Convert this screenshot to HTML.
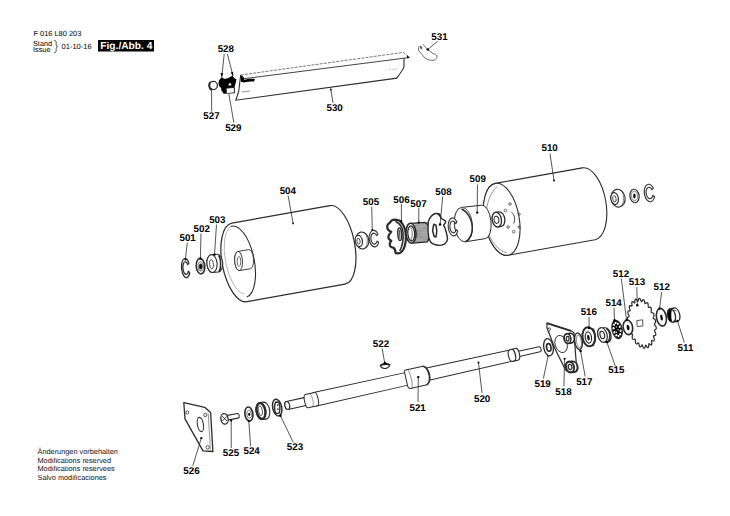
<!DOCTYPE html>
<html><head><meta charset="utf-8">
<style>
html,body{margin:0;padding:0;background:#fff;}
body{width:730px;height:516px;overflow:hidden;position:relative;}
svg{position:absolute;left:0;top:0;}
.l{font-family:"Liberation Sans",sans-serif;font-weight:bold;font-size:9.8px;fill:#000;}
text{text-rendering:geometricPrecision;}
.s{font-family:"Liberation Sans",sans-serif;font-size:7.3px;fill:#000;}
.f{font-family:"Liberation Sans",sans-serif;font-size:7.35px;fill:#111;}
.k{stroke:#000;fill:none;stroke-width:1;}
.t{stroke:#000;fill:none;stroke-width:0.8;}
[stroke="#000"],.k,.t{stroke:#2b2b2b;}
</style></head><body>
<svg width="730" height="516" viewBox="0 0 730 516">

<text class="s" x="33.4" y="36.2" style="font-size:7.45px">F 016 L80 203</text>
<text class="s" x="33" y="45.8" style="font-size:7.3px">Stand</text>
<text class="s" x="33" y="51.9" style="font-size:7.3px">Issue</text>
<path d="M54,40.3 C56,40.3 56.2,41.5 56.2,43 L56.2,45 C56.2,46 56.8,46.5 57.6,46.6 C56.8,46.7 56.2,47.2 56.2,48.2 L56.2,50 C56.2,51.5 56,52.7 54,52.7" fill="none" stroke="#000" stroke-width="0.75"/>
<text class="s" x="61.6" y="49" style="font-size:7.5px">01-10-16</text>
<rect x="98" y="40" width="56" height="11.5" fill="#000"/>
<text class="l" x="100.3" y="49.3" style="fill:#fff;font-size:10.2px">Fig./Abb. 4</text>
<text class="f" x="37.5" y="453.9">Änderungen vorbehalten</text>
<text class="f" x="37.5" y="462.6">Modifications reserved</text>
<text class="f" x="37.5" y="471.3">Modifications reservees</text>
<text class="f" x="37.5" y="480">Salvo modificaciones</text>


<g class="k">
<path d="M240.7,75 L403.3,52.4 L409.5,57.4" stroke-dasharray="3 1.2" stroke-width="0.8" style="stroke:#555"/>
<path d="M241.7,79 L404.1,58.2 L409.5,57.6" stroke-width="1" style="stroke:#444"/>
<path d="M404.1,58.2 L403.9,67 C403.5,69 402,71 396.7,78.2" stroke-width="1.1"/>
<path d="M407,55.2 L409.8,57.5 L406.8,58 Z" fill="#000" stroke="none"/>
<path d="M389,69.8 L397,69.2" stroke-width="0.4" stroke-dasharray="1 1.5"/>
<path d="M240.7,75 L239.8,82.3 L238.8,91 L235.9,100.2 L397,78.1" stroke-width="1.1"/>
<path d="M241.5,92 L250,91" stroke-width="0.5"/>
</g>
<path d="M242,80.5 C246,79 251,78.5 255,79 L254,81.5 C250,81.5 246,82 243,82.5 Z" fill="#000"/>
<path d="M240.5,75.5 C242.5,75.5 244,77 244,79 L244.5,81.5 L241,82 Z" fill="#000"/>
<path d="M218.5,83 C218.5,80.5 220,79 221.8,77 C223,78.5 224.5,79 226,78.8 C228,78 230.5,77.5 232.3,75.5 C233.5,77.5 235,78.5 236.5,79.5 C236,82 235,85 234.5,87.5 L227,88 C225.5,88.5 223,90 222.4,92 C221.5,91 221,89.5 221.2,88 C219.5,87 218.5,85 218.5,83 Z" fill="#000"/>
<path d="M228,85.4 L230,82.6 L231.7,85.2 Z" fill="#fff"/>
<path d="M222.4,88 L234.7,87.2 L234.8,93.2 L224,93.8 C222.5,93.5 222,89.5 222.4,88 Z" fill="#000"/>
<path d="M226.5,88.6 L233.8,88.1 L233.9,92.6 L226.8,93 Z" fill="#fff"/>
<circle cx="213.3" cy="85.5" r="4.1" fill="#fff" stroke="#000" stroke-width="1.3"/>
<path d="M210.6,82 C208.5,83.5 208.8,88 211.5,89.8" stroke="#000" stroke-width="2" fill="none"/>
<g class="t">
<path d="M224.2,54 L221.8,77"/><path d="M227.4,54 L233,76"/>
<path d="M211.6,111.5 L211.6,88"/>
<path d="M233.8,122.5 L228.9,94"/>
<path d="M330.8,89.2 L333,103"/>
<path d="M437.7,41.2 L427.8,49.5"/>
</g>
<circle cx="427.8" cy="49.5" r="1.3"/>
<circle cx="330.8" cy="89.4" r="0.9"/>
<path d="M221.8,77 l-1.4,-4 l2.8,0.3z M233,76 l-2.4,-3.4 l2.6,-0.7z" fill="#000"/>
<g class="t">
<path d="M419.2,46.1 C418,48 418.5,50 419,51 L425.3,58.4 C428,60 431,60.5 434,60.3 C436,59.5 437.5,57.5 437,56 C436.5,54.5 435,54 433,53.5 L427.2,49.2 L422.9,44.2" stroke-width="0.7"/>
<path d="M420.5,46 l1,3" stroke-width="1.4"/>
</g>

<path d="M231.88,223.11 L329.88,205.61 A17.2,40 -11 0 1 344.92,284.19 L246.92,301.69 A17.2,40 -11 0 1 231.88,223.11 Z" fill="#fff" stroke="#000" stroke-width="1.2"/>
<path d="M230.6,226.5 A15.5,36 -11 0 1 246.8,297" fill="none" stroke="#000" stroke-width="1.1"/>
<path d="M230.6,226.5 A14.5,35 -11 0 0 244,294" fill="none" stroke="#000" stroke-width="0.35"/>
<path d="M237.78,251.44 L248.78,249.64 A3.9,9.6 -4 0 1 250.42,268.76 L239.42,270.56 A3.9,9.6 -4 0 1 237.78,251.44 Z" fill="#fff" stroke="#000" stroke-width="0.9"/><ellipse cx="238.6" cy="261" rx="3.9" ry="9.6" transform="rotate(-4 238.6 261)" fill="#fff" stroke="#000" stroke-width="0.9"/>
<ellipse cx="239" cy="261.5" rx="1.8" ry="5" fill="none" stroke="#000" stroke-width="0.7" />
<path d="M288.1,195.5 L293.1,223.4" stroke="#000" stroke-width="0.8" fill="none"/><circle cx="293.1" cy="223.4" r="0.9"/>
<path d="M188.91,263 A4.2,9.6 -5 1 0 189.74,272.56 L188.37,271.05 A2.77,6.34 -5 1 1 187.82,264.73 Z" fill="#fff" stroke="#000" stroke-width="1.2" stroke-linejoin="round"/>
<path d="M187.3,242.5 L185.4,259.5" stroke="#000" stroke-width="0.8" fill="none"/><circle cx="185.4" cy="259.5" r="1.0"/>
<ellipse cx="200.5" cy="266.2" rx="4.3" ry="7.7" transform="rotate(-5 200.5 266.2)" fill="#fff" stroke="#000" stroke-width="1.5" />
<ellipse cx="200.7" cy="266.4" rx="2.6" ry="4.6" transform="rotate(-5 200.7 266.4)" fill="none" stroke="#000" stroke-width="0.7" />
<ellipse cx="200.8" cy="266.5" rx="1.3" ry="2.4" fill="#000" stroke="#000" stroke-width="1.1" />
<path d="M201,233.5 L200.4,258.5" stroke="#000" stroke-width="0.8" fill="none"/><circle cx="200.4" cy="258.5" r="1.2"/>
<path d="M211.22,254.73 L216.82,254.23 A5.1,8.9 -5 0 1 218.38,271.97 L212.78,272.47 A5.1,8.9 -5 0 1 211.22,254.73 Z" fill="#fff" stroke="#000" stroke-width="1.1"/><ellipse cx="212" cy="263.6" rx="5.1" ry="8.9" transform="rotate(-5 212 263.6)" fill="#fff" stroke="#000" stroke-width="1.1"/>
<path d="M218.5,255.5 C221,258 221.5,268 218.8,271.8" fill="none" stroke="#000" stroke-width="1.6"/>
<ellipse cx="211.5" cy="264.2" rx="1.9" ry="4.6" transform="rotate(-5 211.5 264.2)" fill="none" stroke="#000" stroke-width="0.8" />
<path d="M216.5,224.5 L214.5,254.6" stroke="#000" stroke-width="0.8" fill="none"/><circle cx="214.5" cy="254.6" r="1.2"/>
<ellipse cx="362.2" cy="240.5" rx="6.6" ry="8.5" transform="rotate(-10 362.2 240.5)" fill="#fff" stroke="#000" stroke-width="1.1" />
<path d="M364.5,232.5 C368,235 368.5,246 364.5,248.5" fill="none" stroke="#000" stroke-width="0.6"/>
<ellipse cx="358.8" cy="241" rx="3.6" ry="5.6" transform="rotate(-10 358.8 241)" fill="#fff" stroke="#000" stroke-width="1.2" />
<ellipse cx="358.5" cy="241.2" rx="1.6" ry="3" transform="rotate(-10 358.5 241.2)" fill="none" stroke="#000" stroke-width="0.8" />
<path d="M377.97,234.1 A4.9,8.3 -5 1 0 378.69,242.36 L377.13,241.08 A3.23,5.48 -5 1 1 376.65,235.63 Z" fill="#fff" stroke="#000" stroke-width="1.1" stroke-linejoin="round"/>
<path d="M371.7,206.7 L372.3,230" stroke="#000" stroke-width="0.8" fill="none"/><circle cx="372.3" cy="230" r="1.0"/>
<path d="M393.8,219.6 C396,219.6 398,220 399.7,220.8 C403.5,224 405.9,230 405.9,236.7 C405.9,243 404.5,247.5 403,250 C401.5,252.5 399,253.5 396.75,253.3 C395.8,253.2 395.3,252.8 395.5,252.5 C395.5,250.5 394.5,248.5 393,247.5 C391,247.5 389.5,246 389.7,244.2 C389.8,242.5 390.5,241.5 391.3,240.8 C389.5,240 388.2,238.5 388.4,236.7 C388.6,234.5 390,233 391.3,231.7 C389,231 387.2,229 387.2,226.7 C387.2,225 388.3,223.5 389.7,222.9 C390.8,221 392,219.8 393.8,219.6 Z" fill="#fff" stroke="#000" stroke-width="2.2" stroke-linejoin="round"/>
<path d="M395.5,221.25 C399.5,223.5 402.6,227 403,232 C403.5,238 402.5,246 399.7,250.8" fill="none" stroke="#000" stroke-width="1.5"/>
<ellipse cx="399.7" cy="234.2" rx="1.9" ry="6.3" transform="rotate(-3 399.7 234.2)" fill="#fff" stroke="#000" stroke-width="1.5" />
<path d="M399.6,230 L399.8,238.5" stroke="#000" stroke-width="0.9"/>
<path d="M401.4,204 L401.4,221" stroke="#000" stroke-width="0.8" fill="none"/><circle cx="401.4" cy="221" r="1.0"/>
<path d="M410.5,223.3 L425.4,222.4 C428.5,224.5 430,228 430,232 C430,236 429,239.5 427.3,241.9 L412.6,243.2" fill="#fff" stroke="#000" stroke-width="1.2"/>
<g stroke="#000" stroke-width="0.5" fill="none"><path d="M414.5,223.1 c2.3,3 2.8,16.5 0.5,19.8"/><path d="M415.55,223.02 c2.3,3 2.8,16.5 0.5,19.8"/><path d="M416.6,222.94 c2.3,3 2.8,16.5 0.5,19.8"/><path d="M417.65,222.86 c2.3,3 2.8,16.5 0.5,19.8"/><path d="M418.7,222.78 c2.3,3 2.8,16.5 0.5,19.8"/><path d="M419.75,222.7 c2.3,3 2.8,16.5 0.5,19.8"/><path d="M420.8,222.62 c2.3,3 2.8,16.5 0.5,19.8"/><path d="M421.85,222.54 c2.3,3 2.8,16.5 0.5,19.8"/><path d="M422.9,222.46 c2.3,3 2.8,16.5 0.5,19.8"/><path d="M423.95,222.38 c2.3,3 2.8,16.5 0.5,19.8"/><path d="M425,222.3 c2.3,3 2.8,16.5 0.5,19.8"/><path d="M426.05,222.22 c2.3,3 2.8,16.5 0.5,19.8"/><path d="M427.1,222.14 c2.3,3 2.8,16.5 0.5,19.8"/></g>
<ellipse cx="411" cy="233.2" rx="5" ry="10" transform="rotate(-3 411 233.2)" fill="#fff" stroke="#000" stroke-width="1.6" />
<ellipse cx="411.2" cy="233.4" rx="3.4" ry="7.6" transform="rotate(-3 411.2 233.4)" fill="none" stroke="#000" stroke-width="1.3" />
<path d="M410.5,227 C412.5,229 412.8,237 411,240" fill="none" stroke="#000" stroke-width="0.6"/>
<path d="M418.8,207.5 L418.8,222.5" stroke="#000" stroke-width="0.8" fill="none"/><circle cx="418.8" cy="222.5" r="1.1"/>
<path d="M428.5,221.2 C430,217 433,214 435.9,213.5 C437.5,213.3 439,213.8 439.7,214.3 L441.3,218.5 C442.5,219.5 444,219.8 445.5,221 C446,222.5 445,223.8 443.6,225.1 C444.5,227 445.3,228.3 445.5,229.4 C446.5,233 447.5,236 447.5,239.5 C447,241.5 445.8,243 444.4,244.1 C442.5,245 440,245.5 438.2,245.3 C435,245 432,243.8 430.4,241.8 C428.8,238.5 428,235 428.1,231.7 C428,228 428,224 428.5,221.2 Z" fill="#fff" stroke="#000" stroke-width="1.4" stroke-linejoin="round"/>
<path d="M437.5,213.8 L439.7,214.3 L440.8,217.5 Z" fill="#000" stroke="#000" stroke-width="1"/>
<path d="M433.8,224.2 L436,225.2 L436.8,231 L436,237 L434,236.2 L432.6,230.5 Z" fill="#fff" stroke="#000" stroke-width="1.5" stroke-linejoin="round"/>
<path d="M442.7,196.5 L440.1,224.5" stroke="#000" stroke-width="0.8" fill="none"/><circle cx="440.1" cy="224.5" r="1.3"/>
<path d="M495.35,183.36 L582.35,167.86 A17.5,36.5 -10 0 1 595.05,239.74 L508.05,255.24 A17.5,36.5 -10 0 1 495.35,183.36 Z" fill="#fff" stroke="#000" stroke-width="1.1"/><ellipse cx="501.7" cy="219.3" rx="17.5" ry="36.5" transform="rotate(-10 501.7 219.3)" fill="#fff" stroke="#000" stroke-width="1.1"/>
<path d="M497,186.5 C489,194 485,208 486,222 C487.5,237 496,250 507,253" fill="none" stroke="#000" stroke-width="0.5"/>
<g fill="none" stroke="#000" stroke-width="0.7">
<circle cx="510" cy="204" r="1.3"/><circle cx="505.4" cy="210.5" r="1.3"/>
<circle cx="519.2" cy="214.2" r="1.1"/><circle cx="508.1" cy="227" r="1.3"/>
<circle cx="513.7" cy="231.7" r="1.3"/><circle cx="519" cy="227" r="1.1"/>
<path d="M511.5,212.5 C515,214 515.5,221 513.5,223.5" stroke-width="0.9"/>
</g>
<path d="M495.61,212.3 L499.11,211.8 A4.6,7.4 -10 0 1 501.49,226.4 L497.99,226.9 A4.6,7.4 -10 0 1 495.61,212.3 Z" fill="#fff" stroke="#000" stroke-width="1.3"/><ellipse cx="496.8" cy="219.6" rx="4.6" ry="7.4" transform="rotate(-10 496.8 219.6)" fill="#fff" stroke="#000" stroke-width="1.3"/>
<ellipse cx="496.5" cy="219.8" rx="2.4" ry="3.6" transform="rotate(-10 496.5 219.8)" fill="#fff" stroke="#000" stroke-width="1" />
<path d="M550,153.5 L554,180.5" stroke="#000" stroke-width="0.8" fill="none"/><circle cx="554" cy="180.5" r="1.0"/>
<path d="M461.46,207.41 L481.65,205.2 A7.5,16.8 -6 0 1 485.35,238.6 L465.34,241.79 A9,17.3 -6 0 1 461.46,207.41 Z" fill="#fff" stroke="#000" stroke-width="1"/><ellipse cx="463.4" cy="224.6" rx="9" ry="17.3" transform="rotate(-6 463.4 224.6)" fill="#fff" stroke="#000" stroke-width="0.8"/>
<path d="M461.5,209 C468,212 472,220 472.3,227 C472.5,234 470,239 465.8,241.5" fill="none" stroke="#000" stroke-width="1.5"/>
<path d="M477.5,184.5 L477.2,212.6" stroke="#000" stroke-width="0.8" fill="none"/><circle cx="477.2" cy="212.6" r="1.2"/>
<path d="M456.94,222.05 A4.9,9 -5 1 0 457.72,231.01 L456.15,229.61 A3.23,5.94 -5 1 1 455.63,223.7 Z" fill="#fff" stroke="#000" stroke-width="1.1" stroke-linejoin="round"/>
<ellipse cx="618.1" cy="198.2" rx="7" ry="9" transform="rotate(-10 618.1 198.2)" fill="#fff" stroke="#000" stroke-width="1.1" />
<path d="M620.5,190 C624.5,192.5 625,203.5 620.5,206.5" fill="none" stroke="#000" stroke-width="0.6"/>
<ellipse cx="614.6" cy="198.6" rx="3.8" ry="6" transform="rotate(-10 614.6 198.6)" fill="#fff" stroke="#000" stroke-width="1.2" />
<ellipse cx="614.4" cy="198.8" rx="1.7" ry="3.2" transform="rotate(-10 614.4 198.8)" fill="none" stroke="#000" stroke-width="0.8" />
<ellipse cx="634.5" cy="196" rx="4.6" ry="6.8" transform="rotate(-8 634.5 196)" fill="#fff" stroke="#000" stroke-width="1.2" />
<ellipse cx="634.5" cy="196" rx="3" ry="4.6" transform="rotate(-8 634.5 196)" fill="none" stroke="#000" stroke-width="0.5" />
<ellipse cx="634.4" cy="196" rx="1.2" ry="2.4" fill="#000" stroke="#000" stroke-width="0" />
<path d="M653.35,188.02 A5.2,8.8 -8 1 0 654.57,196.73 L652.85,195.46 A3.43,5.81 -8 1 1 652.04,189.71 Z" fill="#fff" stroke="#000" stroke-width="1.1" stroke-linejoin="round"/>
<g transform="translate(285.8 405.8) rotate(-12.57)">
<path d="M30,-6.9 L125,-6.4 A3,6.4 0 0 1 125,6.4 L30,6.9 A3,6.9 0 0 1 30,-6.9 Z" fill="#fff" stroke="#000" stroke-width="0.95"/>
<path d="M142,-6.3 L232,-5.7 A3,5.7 0 0 1 232,5.7 L142,6.3 A3,6.3 0 0 1 142,-6.3 Z" fill="#fff" stroke="#000" stroke-width="0.95"/>
<path d="M1.5,-4.05 L22,-4 A2.35,4 0 0 1 22,4 L1.5,4.05 A2.35,4.05 0 0 1 1.5,-4.05 Z" fill="#fff" stroke="#000" stroke-width="1.1"/><ellipse cx="1.5" cy="0" rx="2.35" ry="4.05" fill="#fff" stroke="#000" stroke-width="1.1"/>
<path d="M21.5,-6.8 L30.9,-6.8 A2.2,6.8 0 0 1 30.9,6.8 L21.5,6.8 A2.2,6.8 0 0 1 21.5,-6.8 Z" fill="#fff" stroke="#000" stroke-width="1.0"/>
<path d="M25.5,-6.7 A2.2,6.7 0 0 1 25.5,6.7" fill="none" stroke="#000" stroke-width="0.45"/>
<g transform="translate(0 0.7)">
<path d="M123.8,-9.6 L142.4,-9.4 A4.8,9.4 0 0 1 142.4,9.4 L126.5,9.6 C124.5,9.6 123.2,8.5 123.2,6.5 L123.2,-7 C123.2,-8.5 123.5,-9.6 123.8,-9.6 Z" fill="#fff" stroke="#000" stroke-width="1"/>
<path d="M126.8,-9.4 C128.8,-6 129,6 127,9.4" fill="none" stroke="#000" stroke-width="0.5"/>
<path d="M141.8,-9.4 A4.8,9.4 0 0 1 141.8,9.4" fill="none" stroke="#000" stroke-width="1.3"/>
</g>
<path d="M236.5,-2.7 L260,-2.6 A1.5,2.6 0 0 1 260,2.6 L236.5,2.7 A1.5,2.7 0 0 1 236.5,-2.7 Z" fill="#fff" stroke="#000" stroke-width="1"/>
<path d="M231,-6 L236.5,-6 A2.8,6 0 0 1 236.5,6 L231,6 A2.8,6 0 0 1 231,-6 Z" fill="#fff" stroke="#000" stroke-width="1.1"/>
<path d="M232.8,-5.9 A2.4,5.9 0 0 1 232.8,5.9" fill="none" stroke="#000" stroke-width="1.3"/>
</g>
<path d="M418,402 L418.3,377.1" stroke="#000" stroke-width="0.8" fill="none"/><circle cx="418.3" cy="377.1" r="1.2"/>
<path d="M482,393 L478.5,362.6" stroke="#000" stroke-width="0.8" fill="none"/><circle cx="478.5" cy="362.6" r="1.0"/>
<path d="M380.3,365.3 C382,363.6 388,363.4 390,365 C389.5,367.5 386,368.6 384.5,368.5 C382.5,368.4 380.8,367.3 380.3,365.3 Z" fill="#fff" stroke="#000" stroke-width="1.1"/>
<path d="M380.3,365.5 C383,364.2 387.5,364 390,365" fill="none" stroke="#000" stroke-width="1.6"/>
<path d="M384.5,361 L383,364.5 L387.8,364.3 Z" fill="#000"/>
<path d="M382.2,348.5 L384.5,362" stroke="#000" stroke-width="0.8" fill="none"/>
<path d="M183.8,402.7 L204.7,407.3 L210.6,412.5 L212.9,451.5 L203,450.9 L185,418.9 Z" fill="#fff" stroke="#000" stroke-width="1.3" stroke-linejoin="round"/>
<path d="M208.2,413.2 L210.4,449.5" fill="none" stroke="#000" stroke-width="0.5"/>
<ellipse cx="187.3" cy="412.5" rx="1.5" ry="1.7" fill="#fff" stroke="#000" stroke-width="0.8" />
<ellipse cx="205.3" cy="414.9" rx="1.6" ry="1.8" fill="#fff" stroke="#000" stroke-width="0.8" />
<ellipse cx="207.7" cy="447.4" rx="1.6" ry="1.8" fill="#fff" stroke="#000" stroke-width="0.8" />
<ellipse cx="200.4" cy="424.5" rx="3" ry="7.2" transform="rotate(-10 200.4 424.5)" fill="#fff" stroke="#000" stroke-width="1.1" />
<path d="M192.8,465.8 L201.3,438.1" stroke="#000" stroke-width="0.8" fill="none"/><circle cx="201.3" cy="438.1" r="1.1"/>
<path d="M226,415.6 L237.6,413.5 C239.6,413.5 239.8,417.8 238.1,418.1 L226.5,420.3 Z" fill="#fff" stroke="#000" stroke-width="1.1"/>
<ellipse cx="224.5" cy="418.9" rx="3.6" ry="5.3" transform="rotate(-10 224.5 418.9)" fill="#fff" stroke="#000" stroke-width="1.3" />
<path d="M222,416 L227,421 M222.5,421 L226.5,416.5" stroke="#000" stroke-width="0.9"/>
<path d="M231.2,448 L231.2,420.5" stroke="#000" stroke-width="0.8" fill="none"/><circle cx="231.2" cy="420.5" r="1.1"/>
<ellipse cx="248.9" cy="414" rx="4" ry="7" transform="rotate(-8 248.9 414)" fill="#fff" stroke="#000" stroke-width="1.6" />
<ellipse cx="249.1" cy="414.2" rx="2.3" ry="4" transform="rotate(-8 249.1 414.2)" fill="none" stroke="#000" stroke-width="0.6" />
<ellipse cx="249.2" cy="414.3" rx="1" ry="1.6" fill="#000" stroke="#000" stroke-width="0" />
<path d="M250.6,446.2 L248.8,421" stroke="#000" stroke-width="0.8" fill="none"/><circle cx="248.8" cy="421" r="1.1"/>
<path d="M259.7,402.5 L263.5,402.1 A4.9,8.6 -10 0 1 266.1,419.1 L262.3,419.5 A4.9,8.6 -10 0 1 259.7,402.5 Z" fill="#fff" stroke="#000" stroke-width="1.1"/><ellipse cx="261" cy="411" rx="4.9" ry="8.6" transform="rotate(-10 261 411)" fill="#fff" stroke="#000" stroke-width="1.1"/>
<ellipse cx="261" cy="411" rx="4.2" ry="7.9" transform="rotate(-10 261 411)" fill="#fff" stroke="#000" stroke-width="2.2" />
<ellipse cx="260.4" cy="410.8" rx="1.9" ry="4.9" transform="rotate(-10 260.4 410.8)" fill="#fff" stroke="#000" stroke-width="0.7" />
<ellipse cx="277.2" cy="407.6" rx="4.5" ry="8.5" transform="rotate(-12 277.2 407.6)" fill="#fff" stroke="#000" stroke-width="1.5" />
<path d="M275.8,402 C274.2,404 274,411 276,413.5 L279,413.2 C280.2,411 280.2,405 279,402.5 Z" fill="none" stroke="#000" stroke-width="1.4"/>
<path d="M277,405 l1.5,0 M277,409 l1.6,0.3" stroke="#000" stroke-width="1.3"/>
<path d="M293.3,442.4 L280.5,415.8" stroke="#000" stroke-width="0.8" fill="none"/><circle cx="280.5" cy="415.8" r="1.2"/>
<path d="M546.9,323.2 L571,330.8 C573,331.5 574,332.5 574,333.5 L576.6,367.5 C576.8,370 575.5,371.8 573.4,371.7 L566.5,370.8 C565.5,370.5 565,369.5 564.8,368.5 L555.1,349 L547,327.8 Z" fill="#fff" stroke="#000" stroke-width="1.2"/>
<path d="M546.9,323.2 L571,330.8" fill="none" stroke="#000" stroke-width="1.8"/>
<path d="M548,329 C548,327.5 550.5,327.5 550.5,329.2 C550.5,330.8 548.2,330.8 548.2,332.7" fill="none" stroke="#000" stroke-width="0.9"/>
<ellipse cx="561.1" cy="344" rx="6" ry="8.8" transform="rotate(-18 561.1 344)" fill="#fff" stroke="#000" stroke-width="0.9" />
<path d="M566.74,333.86 L570.24,333.36 A3.3,4.8 -10 0 1 571.76,342.84 L568.26,343.34 A3.3,4.8 -10 0 1 566.74,333.86 Z" fill="#fff" stroke="#000" stroke-width="1.6"/><ellipse cx="567.5" cy="338.6" rx="3.3" ry="4.8" transform="rotate(-10 567.5 338.6)" fill="#fff" stroke="#000" stroke-width="1.6"/>
<ellipse cx="567.6" cy="338.7" rx="1.4" ry="2.4" fill="#fff" stroke="#000" stroke-width="1.2" />
<path d="M569.12,361.69 L572.62,361.39 A4,5.4 -15 0 1 574.38,372.01 L570.88,372.31 A4,5.4 -15 0 1 569.12,361.69 Z" fill="#fff" stroke="#000" stroke-width="2"/><ellipse cx="570" cy="367" rx="4" ry="5.4" transform="rotate(-15 570 367)" fill="#fff" stroke="#000" stroke-width="2"/>
<ellipse cx="570.1" cy="367" rx="1.8" ry="2.6" transform="rotate(-15 570.1 367)" fill="#fff" stroke="#000" stroke-width="1.3" />
<circle cx="564.6" cy="358.8" r="1.1"/>
<ellipse cx="578.5" cy="341.2" rx="3.8" ry="8.4" transform="rotate(-8 578.5 341.2)" fill="none" stroke="#000" stroke-width="1.3" />
<ellipse cx="578.9" cy="341.4" rx="2.3" ry="6.5" transform="rotate(-8 578.9 341.4)" fill="none" stroke="#000" stroke-width="0.5" />
<path d="M543.4,378.5 L548.2,355.6" stroke="#000" stroke-width="0.8" fill="none"/><circle cx="548.2" cy="355.6" r="1.1"/>
<path d="M563.9,386.4 L564.6,359.5" stroke="#000" stroke-width="0.8" fill="none"/>
<path d="M585.2,376.6 L580.6,351" stroke="#000" stroke-width="0.8" fill="none"/><circle cx="580.6" cy="351" r="1.3"/>
<ellipse cx="548.5" cy="347.2" rx="4.7" ry="8.7" transform="rotate(-10 548.5 347.2)" fill="#fff" stroke="#000" stroke-width="1.3" />
<ellipse cx="548.8" cy="347.4" rx="2.2" ry="3.8" transform="rotate(-10 548.8 347.4)" fill="none" stroke="#000" stroke-width="1.6" />
<ellipse cx="588.8" cy="336.8" rx="6.3" ry="9.6" transform="rotate(-8 588.8 336.8)" fill="#fff" stroke="#000" stroke-width="2" />
<ellipse cx="588.4" cy="337.5" rx="3.1" ry="5.6" transform="rotate(-8 588.4 337.5)" fill="#fff" stroke="#000" stroke-width="1.2" />
<ellipse cx="588.4" cy="337.6" rx="1.2" ry="2.8" transform="rotate(-8 588.4 337.6)" fill="#000" stroke="#000" stroke-width="0" />
<path d="M592.5,328.5 C595.5,331 596,342 592.5,346" fill="none" stroke="#000" stroke-width="1.6"/>
<path d="M589.1,316.8 L589.1,328" stroke="#000" stroke-width="0.8" fill="none"/><circle cx="589.1" cy="328" r="1.2"/>
<path d="M601.34,327.75 L605.14,327.75 A4.6,7.4 -15 0 1 607.46,342.25 L603.66,342.25 A4.6,7.4 -15 0 1 601.34,327.75 Z" fill="#fff" stroke="#000" stroke-width="1.2"/><ellipse cx="602.5" cy="335" rx="4.6" ry="7.4" transform="rotate(-15 602.5 335)" fill="#fff" stroke="#000" stroke-width="1.2"/>
<path d="M606.5,328.5 C610.5,331 611,339 607.5,342.3" fill="none" stroke="#000" stroke-width="1.5"/>
<ellipse cx="602.3" cy="335" rx="2.2" ry="3.8" transform="rotate(-15 602.3 335)" fill="none" stroke="#000" stroke-width="1.2" />
<path d="M615.3,366 L606.8,342" stroke="#000" stroke-width="0.8" fill="none"/><circle cx="606.8" cy="342" r="1.2"/>
<path d="M655.59,320.87 L655.66,321.58 L655.47,322.31 L655.01,323.02 L654.53,323.67 L654.36,324.29 L654.65,324.95 L655.27,325.68 L655.87,326.47 L656.2,327.24 L656.26,327.96 L656.21,328.64 L655.9,329.2 L655.32,329.61 L654.72,329.96 L654.44,330.43 L654.63,331.16 L655.13,332.13 L655.61,333.14 L655.82,334 L655.76,334.67 L655.6,335.26 L655.19,335.61 L654.53,335.69 L653.86,335.7 L653.49,335.98 L653.56,336.74 L653.92,337.86 L654.24,339.01 L654.3,339.88 L654.14,340.46 L653.87,340.91 L653.39,341.03 L652.7,340.76 L652.02,340.44 L651.6,340.52 L651.55,341.23 L651.72,342.42 L651.85,343.61 L651.77,344.42 L651.51,344.86 L651.16,345.14 L650.66,345 L650,344.42 L649.35,343.79 L648.91,343.65 L648.74,344.27 L648.72,345.42 L648.66,346.56 L648.44,347.25 L648.09,347.52 L647.7,347.59 L647.2,347.22 L646.63,346.37 L646.08,345.48 L645.65,345.14 L645.37,345.61 L645.15,346.63 L644.9,347.63 L644.57,348.14 L644.17,348.21 L643.75,348.08 L643.31,347.5 L642.87,346.45 L642.45,345.38 L642.08,344.86 L641.71,345.14 L641.32,345.95 L640.9,346.72 L640.47,347.02 L640.05,346.88 L639.65,346.56 L639.3,345.82 L639.02,344.66 L638.78,343.48 L638.48,342.83 L638.06,342.9 L637.53,343.44 L636.97,343.92 L636.48,343.98 L636.08,343.65 L635.72,343.16 L635.49,342.32 L635.4,341.13 L635.34,339.95 L635.15,339.22 L634.71,339.08 L634.08,339.29 L633.43,339.45 L632.92,339.26 L632.57,338.76 L632.29,338.14 L632.19,337.27 L632.29,336.16 L632.44,335.08 L632.36,334.32 L631.94,333.97 L631.26,333.85 L630.57,333.67 L630.08,333.25 L629.8,332.62 L629.62,331.93 L629.67,331.09 L629.96,330.15 L630.29,329.24 L630.34,328.53 L629.96,328 L629.29,327.56 L628.61,327.05 L628.19,326.43 L628.01,325.73 L627.94,325.02 L628.13,324.29 L628.59,323.58 L629.07,322.93 L629.24,322.31 L628.95,321.65 L628.33,320.92 L627.73,320.13 L627.4,319.36 L627.34,318.64 L627.39,317.96 L627.7,317.4 L628.28,316.99 L628.88,316.64 L629.16,316.17 L628.97,315.44 L628.47,314.47 L627.99,313.46 L627.78,312.6 L627.84,311.93 L628,311.34 L628.41,310.99 L629.07,310.91 L629.74,310.9 L630.11,310.62 L630.04,309.86 L629.68,308.74 L629.36,307.59 L629.3,306.72 L629.46,306.14 L629.73,305.69 L630.21,305.57 L630.9,305.84 L631.58,306.16 L632,306.08 L632.05,305.37 L631.88,304.18 L631.75,302.99 L631.83,302.18 L632.09,301.74 L632.44,301.46 L632.94,301.6 L633.6,302.18 L634.25,302.81 L634.69,302.95 L634.86,302.33 L634.88,301.18 L634.94,300.04 L635.16,299.35 L635.51,299.08 L635.9,299.01 L636.4,299.38 L636.97,300.23 L637.52,301.12 L637.95,301.46 L638.23,300.99 L638.45,299.97 L638.7,298.97 L639.03,298.46 L639.43,298.39 L639.85,298.52 L640.29,299.1 L640.73,300.15 L641.15,301.22 L641.52,301.74 L641.89,301.46 L642.28,300.65 L642.7,299.88 L643.13,299.58 L643.55,299.72 L643.95,300.04 L644.3,300.78 L644.58,301.94 L644.82,303.12 L645.12,303.77 L645.54,303.7 L646.07,303.16 L646.63,302.68 L647.12,302.62 L647.52,302.95 L647.88,303.44 L648.11,304.28 L648.2,305.47 L648.26,306.65 L648.45,307.38 L648.89,307.52 L649.52,307.31 L650.17,307.15 L650.68,307.34 L651.03,307.84 L651.31,308.46 L651.41,309.33 L651.31,310.44 L651.16,311.52 L651.24,312.28 L651.66,312.63 L652.34,312.75 L653.03,312.93 L653.52,313.35 L653.8,313.98 L653.98,314.67 L653.93,315.51 L653.64,316.45 L653.31,317.36 L653.26,318.07 L653.64,318.6 L654.31,319.04 L654.99,319.55 L655.41,320.17 L655.59,320.87Z" fill="#fff" stroke="#000" stroke-width="1.2" stroke-linejoin="round"/>
<path d="M636.8,320.6 L642.5,319.8 L643,325.9 L637.2,326.6 Z" fill="#fff" stroke="#000" stroke-width="0.8"/>
<path d="M636.8,287.2 L637.3,305.2" stroke="#000" stroke-width="0.8" fill="none"/><circle cx="637.3" cy="305.2" r="1.3"/>
<ellipse cx="627.9" cy="327.4" rx="4.7" ry="7.3" transform="rotate(-10 627.9 327.4)" fill="#fff" stroke="#000" stroke-width="1.6" />
<ellipse cx="628.1" cy="327.6" rx="1.4" ry="2.9" transform="rotate(-10 628.1 327.6)" fill="#000" stroke="#000" stroke-width="0" />
<path d="M621.3,278.4 L626.5,319.8" stroke="#000" stroke-width="0.8" fill="none"/><circle cx="626.5" cy="319.8" r="1.1"/>
<ellipse cx="617.1" cy="329.5" rx="4.9" ry="9.1" transform="rotate(-12 617.1 329.5)" fill="#000" stroke="#000" stroke-width="1.5" />
<ellipse cx="620.59" cy="330.75" rx="0.95" ry="1.2" fill="#fff"/><ellipse cx="620.13" cy="334.26" rx="0.95" ry="1.2" fill="#fff"/><ellipse cx="618.52" cy="335.95" rx="0.95" ry="1.2" fill="#fff"/><ellipse cx="616.36" cy="335.17" rx="0.95" ry="1.2" fill="#fff"/><ellipse cx="614.49" cy="332.23" rx="0.95" ry="1.2" fill="#fff"/><ellipse cx="613.61" cy="328.25" rx="0.95" ry="1.2" fill="#fff"/><ellipse cx="614.07" cy="324.74" rx="0.95" ry="1.2" fill="#fff"/><ellipse cx="615.68" cy="323.05" rx="0.95" ry="1.2" fill="#fff"/><ellipse cx="617.84" cy="323.83" rx="0.95" ry="1.2" fill="#fff"/><ellipse cx="619.71" cy="326.77" rx="0.95" ry="1.2" fill="#fff"/><ellipse cx="616.3" cy="327" rx="0.6" ry="0.8" fill="#fff"/><ellipse cx="618" cy="329.8" rx="0.6" ry="0.8" fill="#fff"/><ellipse cx="616.6" cy="332.3" rx="0.6" ry="0.8" fill="#fff"/>
<path d="M614,307.5 L614.5,320.3" stroke="#000" stroke-width="0.8" fill="none"/><circle cx="614.5" cy="320.3" r="1.2"/>
<ellipse cx="661.4" cy="317.3" rx="4.9" ry="8.9" transform="rotate(-10 661.4 317.3)" fill="#fff" stroke="#000" stroke-width="1.6" />
<ellipse cx="661.5" cy="317.5" rx="1.2" ry="3" transform="rotate(-10 661.5 317.5)" fill="#000" stroke="#000" stroke-width="0" />
<path d="M661.6,292 L659.6,308.5" stroke="#000" stroke-width="0.8" fill="none"/><circle cx="659.6" cy="308.5" r="1.2"/>
<path d="M669.89,308.8 L674.39,308 A3.8,6.9 -15 0 1 677.61,321.4 L673.11,322.2 A3.8,6.9 -15 0 1 669.89,308.8 Z" fill="#fff" stroke="#000" stroke-width="1.3"/><ellipse cx="671.5" cy="315.5" rx="3.8" ry="6.9" transform="rotate(-15 671.5 315.5)" fill="#fff" stroke="#000" stroke-width="1.3"/>
<path d="M669,309.5 C667.5,312 667.5,318.5 669.5,321.5 L672,321 C671,318 671,312 672,309.5 Z" fill="#000"/>
<path d="M673,310 L676.5,311 M673.5,320.8 L677.5,320" stroke="#000" stroke-width="0.7"/>
<path d="M684.3,342.6 L677.5,321" stroke="#000" stroke-width="0.8" fill="none"/><circle cx="677.5" cy="321" r="1.1"/>
<text class="l" x="217.65" y="51.5">528</text>
<text class="l" x="203.35" y="119">527</text>
<text class="l" x="225.15" y="131.3">529</text>
<text class="l" x="326.45" y="111.3">530</text>
<text class="l" x="431.25" y="39.7">531</text>
<text class="l" x="279.65" y="193.5">504</text>
<text class="l" x="179.45" y="240.8">501</text>
<text class="l" x="193.55" y="232.4">502</text>
<text class="l" x="209.15" y="223.3">503</text>
<text class="l" x="362.85" y="205">505</text>
<text class="l" x="393.25" y="202.8">506</text>
<text class="l" x="410.35" y="206.7">507</text>
<text class="l" x="435.35" y="195.4">508</text>
<text class="l" x="469.55" y="182">509</text>
<text class="l" x="541.45" y="150.9">510</text>
<text class="l" x="580.65" y="315">516</text>
<text class="l" x="608.15" y="373">515</text>
<text class="l" x="605.45" y="306">514</text>
<text class="l" x="534.45" y="386.7">519</text>
<text class="l" x="555.25" y="395.3">518</text>
<text class="l" x="576.15" y="384.7">517</text>
<text class="l" x="612.85" y="276.9">512</text>
<text class="l" x="628.75" y="284.7">513</text>
<text class="l" x="653.55" y="290.4">512</text>
<text class="l" x="677.55" y="350.5">511</text>
<text class="l" x="372.75" y="347">522</text>
<text class="l" x="409.45" y="411.2">521</text>
<text class="l" x="473.95" y="401.9">520</text>
<text class="l" x="183.35" y="473.8">526</text>
<text class="l" x="222.75" y="455.6">525</text>
<text class="l" x="243.45" y="453.7">524</text>
<text class="l" x="286.75" y="450.4">523</text>
</svg>
</body></html>
